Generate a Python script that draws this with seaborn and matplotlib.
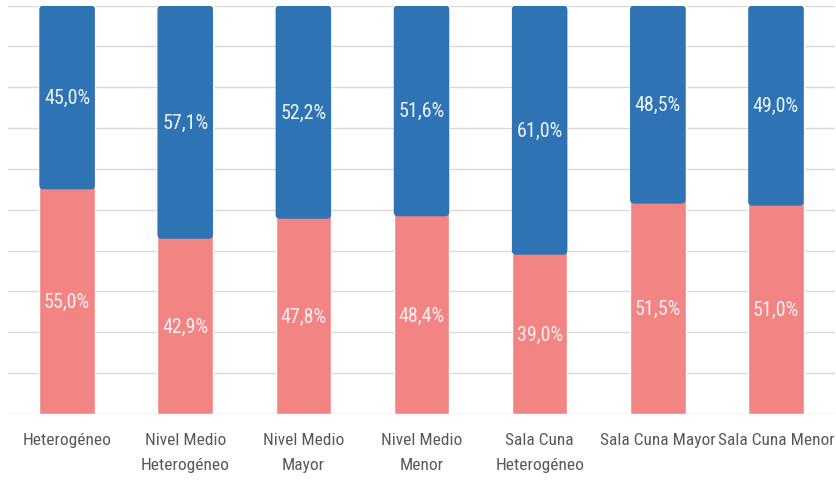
import matplotlib
matplotlib.use("Agg")
import matplotlib.pyplot as plt
from matplotlib.patches import FancyBboxPatch
import numpy as np
import pandas as pd
import seaborn as sns

# categories and shares (%)
categories = ["Heterogéneo", "Nivel Medio\nHeterogéneo", "Nivel Medio\nMayor",
              "Nivel Medio\nMenor", "Sala Cuna\nHeterogéneo", "Sala Cuna Mayor",
              "Sala Cuna Menor"]
bottom_pct = [55.0, 42.9, 47.8, 48.4, 39.0, 51.5, 51.0]
top_pct = [45.0, 57.1, 52.2, 51.6, 61.0, 48.5, 49.0]

PINK = "#F38484"
BLUE = "#2E74B5"
FONT = ["DejaVu Sans Condensed", "Liberation Sans Narrow", "Roboto Condensed",
        "Roboto", "DejaVu Sans"]

sns.set_style("white")
plt.rcParams["font.family"] = FONT

df = pd.DataFrame({"cat": categories,
                   "bottom": np.array(bottom_pct) / 100,
                   "top": np.array(top_pct) / 100})
df["total"] = df["bottom"] + df["top"]

fig = plt.figure(figsize=(8.36, 4.81), dpi=100)
ax = fig.add_axes([8 / 836, 66 / 481, 827 / 836, 408.5 / 481])

# full-height pink bars, blue segment drawn over it
sns.barplot(data=df, x="cat", y="total", color=PINK, width=0.47, ax=ax,
            saturation=1, zorder=2)
n = len(df)
sns.barplot(data=df, x="cat", y="top", color=BLUE, width=0.47, ax=ax,
            saturation=1, zorder=3)

# move blue bars on top of pink ones and round their corners
blue_bars = ax.patches[n:]
aspect = (1 / 408.5) / (1 / 118.0)
for p, b in zip(blue_bars, df["bottom"]):
    p.set_visible(False)
    rb = FancyBboxPatch((p.get_x(), b), p.get_width(), p.get_height(),
                        boxstyle="round,pad=0,rounding_size=0.035",
                        mutation_aspect=aspect, facecolor=BLUE,
                        edgecolor="none", zorder=3)
    ax.add_patch(rb)

# data labels
for i, row in df.iterrows():
    ax.text(i, row["bottom"] / 2, f"{row['bottom'] * 100:.1f}%".replace(".", ","),
            ha="center", va="center", color="#FCEEEE", fontsize=14.4, zorder=4)
    ax.text(i, row["bottom"] + row["top"] / 2,
            f"{row['top'] * 100:.1f}%".replace(".", ","),
            ha="center", va="center", color="#EEF3FA", fontsize=14.4, zorder=4)

ax.set_ylim(0, 1)
ax.set_xlim(-0.5, n - 0.5)
ax.set_yticks(np.arange(0, 1.01, 0.1))
ax.set_yticklabels([])
ax.grid(axis="y", color="#D9D9D9", linewidth=1, zorder=0)
ax.set_axisbelow(True)
for s in ax.spines.values():
    s.set_visible(False)
ax.set_xlabel("")
ax.set_ylabel("")
ax.tick_params(axis="both", length=0)
ax.tick_params(axis="x", pad=13)
for lbl in ax.get_xticklabels():
    lbl.set_fontsize(12.5)
    lbl.set_color("#595959")
    lbl.set_linespacing(1.8)
    lbl.set_verticalalignment("top")

fig.savefig("out.png", dpi=100)
